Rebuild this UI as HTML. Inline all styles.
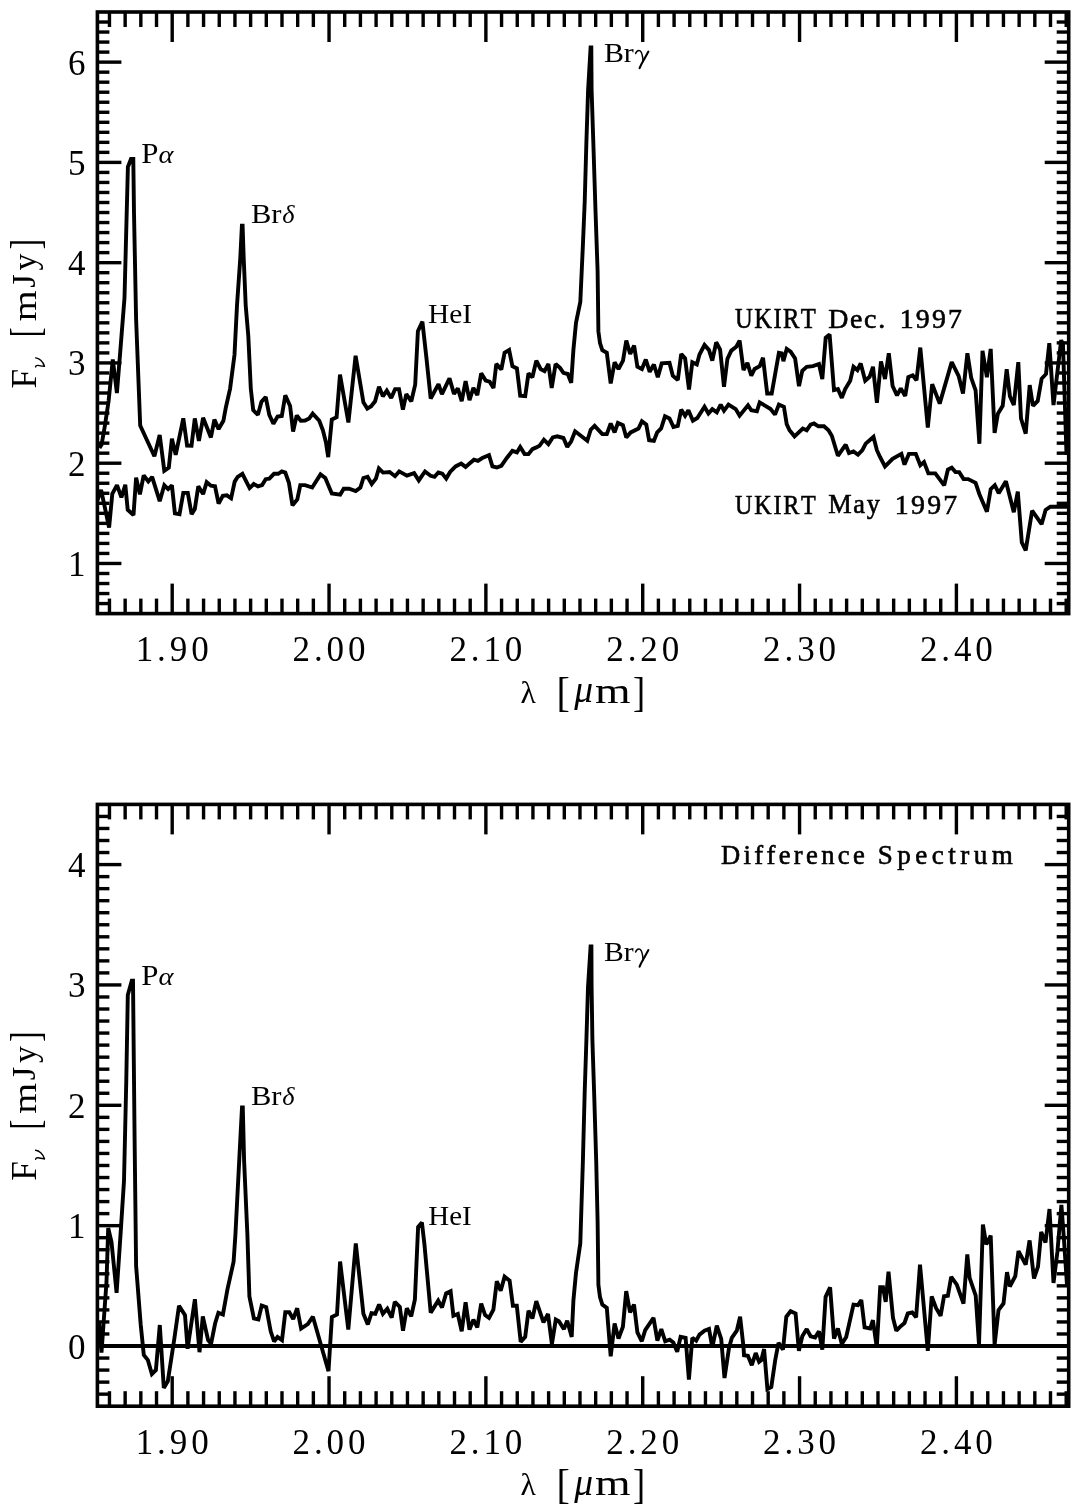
<!DOCTYPE html>
<html><head><meta charset="utf-8"><style>
html,body{margin:0;padding:0;background:#fff;}
svg{display:block;filter:grayscale(1);}
text{font-family:"Liberation Serif",serif;}
</style></head><body>
<svg width="1078" height="1511" viewBox="0 0 1078 1511">
<defs><clipPath id="c1"><rect x="97.4" y="12.0" width="971.3000000000001" height="601.6"/></clipPath>
<clipPath id="c2"><rect x="97.4" y="804.4" width="971.3000000000001" height="601.8000000000001"/></clipPath></defs>
<rect width="1078" height="1511" fill="#fff"/>
<g stroke="#000" stroke-linecap="butt">
<line x1="109.46" y1="613.60" x2="109.46" y2="598.60" stroke-width="3.4"/>
<line x1="109.46" y1="12.00" x2="109.46" y2="27.00" stroke-width="3.4"/>
<line x1="125.15" y1="613.60" x2="125.15" y2="598.60" stroke-width="3.4"/>
<line x1="125.15" y1="12.00" x2="125.15" y2="27.00" stroke-width="3.4"/>
<line x1="140.83" y1="613.60" x2="140.83" y2="598.60" stroke-width="3.4"/>
<line x1="140.83" y1="12.00" x2="140.83" y2="27.00" stroke-width="3.4"/>
<line x1="156.52" y1="613.60" x2="156.52" y2="598.60" stroke-width="3.4"/>
<line x1="156.52" y1="12.00" x2="156.52" y2="27.00" stroke-width="3.4"/>
<line x1="172.20" y1="613.60" x2="172.20" y2="583.60" stroke-width="3.4"/>
<line x1="172.20" y1="12.00" x2="172.20" y2="42.00" stroke-width="3.4"/>
<line x1="187.88" y1="613.60" x2="187.88" y2="598.60" stroke-width="3.4"/>
<line x1="187.88" y1="12.00" x2="187.88" y2="27.00" stroke-width="3.4"/>
<line x1="203.57" y1="613.60" x2="203.57" y2="598.60" stroke-width="3.4"/>
<line x1="203.57" y1="12.00" x2="203.57" y2="27.00" stroke-width="3.4"/>
<line x1="219.25" y1="613.60" x2="219.25" y2="598.60" stroke-width="3.4"/>
<line x1="219.25" y1="12.00" x2="219.25" y2="27.00" stroke-width="3.4"/>
<line x1="234.94" y1="613.60" x2="234.94" y2="598.60" stroke-width="3.4"/>
<line x1="234.94" y1="12.00" x2="234.94" y2="27.00" stroke-width="3.4"/>
<line x1="250.62" y1="613.60" x2="250.62" y2="598.60" stroke-width="3.4"/>
<line x1="250.62" y1="12.00" x2="250.62" y2="27.00" stroke-width="3.4"/>
<line x1="266.30" y1="613.60" x2="266.30" y2="598.60" stroke-width="3.4"/>
<line x1="266.30" y1="12.00" x2="266.30" y2="27.00" stroke-width="3.4"/>
<line x1="281.99" y1="613.60" x2="281.99" y2="598.60" stroke-width="3.4"/>
<line x1="281.99" y1="12.00" x2="281.99" y2="27.00" stroke-width="3.4"/>
<line x1="297.67" y1="613.60" x2="297.67" y2="598.60" stroke-width="3.4"/>
<line x1="297.67" y1="12.00" x2="297.67" y2="27.00" stroke-width="3.4"/>
<line x1="313.36" y1="613.60" x2="313.36" y2="598.60" stroke-width="3.4"/>
<line x1="313.36" y1="12.00" x2="313.36" y2="27.00" stroke-width="3.4"/>
<line x1="329.04" y1="613.60" x2="329.04" y2="583.60" stroke-width="3.4"/>
<line x1="329.04" y1="12.00" x2="329.04" y2="42.00" stroke-width="3.4"/>
<line x1="344.72" y1="613.60" x2="344.72" y2="598.60" stroke-width="3.4"/>
<line x1="344.72" y1="12.00" x2="344.72" y2="27.00" stroke-width="3.4"/>
<line x1="360.41" y1="613.60" x2="360.41" y2="598.60" stroke-width="3.4"/>
<line x1="360.41" y1="12.00" x2="360.41" y2="27.00" stroke-width="3.4"/>
<line x1="376.09" y1="613.60" x2="376.09" y2="598.60" stroke-width="3.4"/>
<line x1="376.09" y1="12.00" x2="376.09" y2="27.00" stroke-width="3.4"/>
<line x1="391.78" y1="613.60" x2="391.78" y2="598.60" stroke-width="3.4"/>
<line x1="391.78" y1="12.00" x2="391.78" y2="27.00" stroke-width="3.4"/>
<line x1="407.46" y1="613.60" x2="407.46" y2="598.60" stroke-width="3.4"/>
<line x1="407.46" y1="12.00" x2="407.46" y2="27.00" stroke-width="3.4"/>
<line x1="423.14" y1="613.60" x2="423.14" y2="598.60" stroke-width="3.4"/>
<line x1="423.14" y1="12.00" x2="423.14" y2="27.00" stroke-width="3.4"/>
<line x1="438.83" y1="613.60" x2="438.83" y2="598.60" stroke-width="3.4"/>
<line x1="438.83" y1="12.00" x2="438.83" y2="27.00" stroke-width="3.4"/>
<line x1="454.51" y1="613.60" x2="454.51" y2="598.60" stroke-width="3.4"/>
<line x1="454.51" y1="12.00" x2="454.51" y2="27.00" stroke-width="3.4"/>
<line x1="470.20" y1="613.60" x2="470.20" y2="598.60" stroke-width="3.4"/>
<line x1="470.20" y1="12.00" x2="470.20" y2="27.00" stroke-width="3.4"/>
<line x1="485.88" y1="613.60" x2="485.88" y2="583.60" stroke-width="3.4"/>
<line x1="485.88" y1="12.00" x2="485.88" y2="42.00" stroke-width="3.4"/>
<line x1="501.56" y1="613.60" x2="501.56" y2="598.60" stroke-width="3.4"/>
<line x1="501.56" y1="12.00" x2="501.56" y2="27.00" stroke-width="3.4"/>
<line x1="517.25" y1="613.60" x2="517.25" y2="598.60" stroke-width="3.4"/>
<line x1="517.25" y1="12.00" x2="517.25" y2="27.00" stroke-width="3.4"/>
<line x1="532.93" y1="613.60" x2="532.93" y2="598.60" stroke-width="3.4"/>
<line x1="532.93" y1="12.00" x2="532.93" y2="27.00" stroke-width="3.4"/>
<line x1="548.62" y1="613.60" x2="548.62" y2="598.60" stroke-width="3.4"/>
<line x1="548.62" y1="12.00" x2="548.62" y2="27.00" stroke-width="3.4"/>
<line x1="564.30" y1="613.60" x2="564.30" y2="598.60" stroke-width="3.4"/>
<line x1="564.30" y1="12.00" x2="564.30" y2="27.00" stroke-width="3.4"/>
<line x1="579.98" y1="613.60" x2="579.98" y2="598.60" stroke-width="3.4"/>
<line x1="579.98" y1="12.00" x2="579.98" y2="27.00" stroke-width="3.4"/>
<line x1="595.67" y1="613.60" x2="595.67" y2="598.60" stroke-width="3.4"/>
<line x1="595.67" y1="12.00" x2="595.67" y2="27.00" stroke-width="3.4"/>
<line x1="611.35" y1="613.60" x2="611.35" y2="598.60" stroke-width="3.4"/>
<line x1="611.35" y1="12.00" x2="611.35" y2="27.00" stroke-width="3.4"/>
<line x1="627.04" y1="613.60" x2="627.04" y2="598.60" stroke-width="3.4"/>
<line x1="627.04" y1="12.00" x2="627.04" y2="27.00" stroke-width="3.4"/>
<line x1="642.72" y1="613.60" x2="642.72" y2="583.60" stroke-width="3.4"/>
<line x1="642.72" y1="12.00" x2="642.72" y2="42.00" stroke-width="3.4"/>
<line x1="658.40" y1="613.60" x2="658.40" y2="598.60" stroke-width="3.4"/>
<line x1="658.40" y1="12.00" x2="658.40" y2="27.00" stroke-width="3.4"/>
<line x1="674.09" y1="613.60" x2="674.09" y2="598.60" stroke-width="3.4"/>
<line x1="674.09" y1="12.00" x2="674.09" y2="27.00" stroke-width="3.4"/>
<line x1="689.77" y1="613.60" x2="689.77" y2="598.60" stroke-width="3.4"/>
<line x1="689.77" y1="12.00" x2="689.77" y2="27.00" stroke-width="3.4"/>
<line x1="705.46" y1="613.60" x2="705.46" y2="598.60" stroke-width="3.4"/>
<line x1="705.46" y1="12.00" x2="705.46" y2="27.00" stroke-width="3.4"/>
<line x1="721.14" y1="613.60" x2="721.14" y2="598.60" stroke-width="3.4"/>
<line x1="721.14" y1="12.00" x2="721.14" y2="27.00" stroke-width="3.4"/>
<line x1="736.82" y1="613.60" x2="736.82" y2="598.60" stroke-width="3.4"/>
<line x1="736.82" y1="12.00" x2="736.82" y2="27.00" stroke-width="3.4"/>
<line x1="752.51" y1="613.60" x2="752.51" y2="598.60" stroke-width="3.4"/>
<line x1="752.51" y1="12.00" x2="752.51" y2="27.00" stroke-width="3.4"/>
<line x1="768.19" y1="613.60" x2="768.19" y2="598.60" stroke-width="3.4"/>
<line x1="768.19" y1="12.00" x2="768.19" y2="27.00" stroke-width="3.4"/>
<line x1="783.88" y1="613.60" x2="783.88" y2="598.60" stroke-width="3.4"/>
<line x1="783.88" y1="12.00" x2="783.88" y2="27.00" stroke-width="3.4"/>
<line x1="799.56" y1="613.60" x2="799.56" y2="583.60" stroke-width="3.4"/>
<line x1="799.56" y1="12.00" x2="799.56" y2="42.00" stroke-width="3.4"/>
<line x1="815.24" y1="613.60" x2="815.24" y2="598.60" stroke-width="3.4"/>
<line x1="815.24" y1="12.00" x2="815.24" y2="27.00" stroke-width="3.4"/>
<line x1="830.93" y1="613.60" x2="830.93" y2="598.60" stroke-width="3.4"/>
<line x1="830.93" y1="12.00" x2="830.93" y2="27.00" stroke-width="3.4"/>
<line x1="846.61" y1="613.60" x2="846.61" y2="598.60" stroke-width="3.4"/>
<line x1="846.61" y1="12.00" x2="846.61" y2="27.00" stroke-width="3.4"/>
<line x1="862.30" y1="613.60" x2="862.30" y2="598.60" stroke-width="3.4"/>
<line x1="862.30" y1="12.00" x2="862.30" y2="27.00" stroke-width="3.4"/>
<line x1="877.98" y1="613.60" x2="877.98" y2="598.60" stroke-width="3.4"/>
<line x1="877.98" y1="12.00" x2="877.98" y2="27.00" stroke-width="3.4"/>
<line x1="893.66" y1="613.60" x2="893.66" y2="598.60" stroke-width="3.4"/>
<line x1="893.66" y1="12.00" x2="893.66" y2="27.00" stroke-width="3.4"/>
<line x1="909.35" y1="613.60" x2="909.35" y2="598.60" stroke-width="3.4"/>
<line x1="909.35" y1="12.00" x2="909.35" y2="27.00" stroke-width="3.4"/>
<line x1="925.03" y1="613.60" x2="925.03" y2="598.60" stroke-width="3.4"/>
<line x1="925.03" y1="12.00" x2="925.03" y2="27.00" stroke-width="3.4"/>
<line x1="940.72" y1="613.60" x2="940.72" y2="598.60" stroke-width="3.4"/>
<line x1="940.72" y1="12.00" x2="940.72" y2="27.00" stroke-width="3.4"/>
<line x1="956.40" y1="613.60" x2="956.40" y2="583.60" stroke-width="3.4"/>
<line x1="956.40" y1="12.00" x2="956.40" y2="42.00" stroke-width="3.4"/>
<line x1="972.08" y1="613.60" x2="972.08" y2="598.60" stroke-width="3.4"/>
<line x1="972.08" y1="12.00" x2="972.08" y2="27.00" stroke-width="3.4"/>
<line x1="987.77" y1="613.60" x2="987.77" y2="598.60" stroke-width="3.4"/>
<line x1="987.77" y1="12.00" x2="987.77" y2="27.00" stroke-width="3.4"/>
<line x1="1003.45" y1="613.60" x2="1003.45" y2="598.60" stroke-width="3.4"/>
<line x1="1003.45" y1="12.00" x2="1003.45" y2="27.00" stroke-width="3.4"/>
<line x1="1019.14" y1="613.60" x2="1019.14" y2="598.60" stroke-width="3.4"/>
<line x1="1019.14" y1="12.00" x2="1019.14" y2="27.00" stroke-width="3.4"/>
<line x1="1034.82" y1="613.60" x2="1034.82" y2="598.60" stroke-width="3.4"/>
<line x1="1034.82" y1="12.00" x2="1034.82" y2="27.00" stroke-width="3.4"/>
<line x1="1050.50" y1="613.60" x2="1050.50" y2="598.60" stroke-width="3.4"/>
<line x1="1050.50" y1="12.00" x2="1050.50" y2="27.00" stroke-width="3.4"/>
<line x1="1066.19" y1="613.60" x2="1066.19" y2="598.60" stroke-width="3.4"/>
<line x1="1066.19" y1="12.00" x2="1066.19" y2="27.00" stroke-width="3.4"/>
<line x1="97.40" y1="603.57" x2="109.40" y2="603.57" stroke-width="3.4"/>
<line x1="1068.70" y1="603.57" x2="1056.70" y2="603.57" stroke-width="3.4"/>
<line x1="97.40" y1="593.55" x2="109.40" y2="593.55" stroke-width="3.4"/>
<line x1="1068.70" y1="593.55" x2="1056.70" y2="593.55" stroke-width="3.4"/>
<line x1="97.40" y1="583.52" x2="109.40" y2="583.52" stroke-width="3.4"/>
<line x1="1068.70" y1="583.52" x2="1056.70" y2="583.52" stroke-width="3.4"/>
<line x1="97.40" y1="573.49" x2="109.40" y2="573.49" stroke-width="3.4"/>
<line x1="1068.70" y1="573.49" x2="1056.70" y2="573.49" stroke-width="3.4"/>
<line x1="97.40" y1="563.47" x2="121.40" y2="563.47" stroke-width="3.4"/>
<line x1="1068.70" y1="563.47" x2="1044.70" y2="563.47" stroke-width="3.4"/>
<line x1="97.40" y1="553.44" x2="109.40" y2="553.44" stroke-width="3.4"/>
<line x1="1068.70" y1="553.44" x2="1056.70" y2="553.44" stroke-width="3.4"/>
<line x1="97.40" y1="543.41" x2="109.40" y2="543.41" stroke-width="3.4"/>
<line x1="1068.70" y1="543.41" x2="1056.70" y2="543.41" stroke-width="3.4"/>
<line x1="97.40" y1="533.39" x2="109.40" y2="533.39" stroke-width="3.4"/>
<line x1="1068.70" y1="533.39" x2="1056.70" y2="533.39" stroke-width="3.4"/>
<line x1="97.40" y1="523.36" x2="109.40" y2="523.36" stroke-width="3.4"/>
<line x1="1068.70" y1="523.36" x2="1056.70" y2="523.36" stroke-width="3.4"/>
<line x1="97.40" y1="513.33" x2="109.40" y2="513.33" stroke-width="3.4"/>
<line x1="1068.70" y1="513.33" x2="1056.70" y2="513.33" stroke-width="3.4"/>
<line x1="97.40" y1="503.31" x2="109.40" y2="503.31" stroke-width="3.4"/>
<line x1="1068.70" y1="503.31" x2="1056.70" y2="503.31" stroke-width="3.4"/>
<line x1="97.40" y1="493.28" x2="109.40" y2="493.28" stroke-width="3.4"/>
<line x1="1068.70" y1="493.28" x2="1056.70" y2="493.28" stroke-width="3.4"/>
<line x1="97.40" y1="483.25" x2="109.40" y2="483.25" stroke-width="3.4"/>
<line x1="1068.70" y1="483.25" x2="1056.70" y2="483.25" stroke-width="3.4"/>
<line x1="97.40" y1="473.23" x2="109.40" y2="473.23" stroke-width="3.4"/>
<line x1="1068.70" y1="473.23" x2="1056.70" y2="473.23" stroke-width="3.4"/>
<line x1="97.40" y1="463.20" x2="121.40" y2="463.20" stroke-width="3.4"/>
<line x1="1068.70" y1="463.20" x2="1044.70" y2="463.20" stroke-width="3.4"/>
<line x1="97.40" y1="453.17" x2="109.40" y2="453.17" stroke-width="3.4"/>
<line x1="1068.70" y1="453.17" x2="1056.70" y2="453.17" stroke-width="3.4"/>
<line x1="97.40" y1="443.15" x2="109.40" y2="443.15" stroke-width="3.4"/>
<line x1="1068.70" y1="443.15" x2="1056.70" y2="443.15" stroke-width="3.4"/>
<line x1="97.40" y1="433.12" x2="109.40" y2="433.12" stroke-width="3.4"/>
<line x1="1068.70" y1="433.12" x2="1056.70" y2="433.12" stroke-width="3.4"/>
<line x1="97.40" y1="423.09" x2="109.40" y2="423.09" stroke-width="3.4"/>
<line x1="1068.70" y1="423.09" x2="1056.70" y2="423.09" stroke-width="3.4"/>
<line x1="97.40" y1="413.07" x2="109.40" y2="413.07" stroke-width="3.4"/>
<line x1="1068.70" y1="413.07" x2="1056.70" y2="413.07" stroke-width="3.4"/>
<line x1="97.40" y1="403.04" x2="109.40" y2="403.04" stroke-width="3.4"/>
<line x1="1068.70" y1="403.04" x2="1056.70" y2="403.04" stroke-width="3.4"/>
<line x1="97.40" y1="393.01" x2="109.40" y2="393.01" stroke-width="3.4"/>
<line x1="1068.70" y1="393.01" x2="1056.70" y2="393.01" stroke-width="3.4"/>
<line x1="97.40" y1="382.99" x2="109.40" y2="382.99" stroke-width="3.4"/>
<line x1="1068.70" y1="382.99" x2="1056.70" y2="382.99" stroke-width="3.4"/>
<line x1="97.40" y1="372.96" x2="109.40" y2="372.96" stroke-width="3.4"/>
<line x1="1068.70" y1="372.96" x2="1056.70" y2="372.96" stroke-width="3.4"/>
<line x1="97.40" y1="362.93" x2="121.40" y2="362.93" stroke-width="3.4"/>
<line x1="1068.70" y1="362.93" x2="1044.70" y2="362.93" stroke-width="3.4"/>
<line x1="97.40" y1="352.91" x2="109.40" y2="352.91" stroke-width="3.4"/>
<line x1="1068.70" y1="352.91" x2="1056.70" y2="352.91" stroke-width="3.4"/>
<line x1="97.40" y1="342.88" x2="109.40" y2="342.88" stroke-width="3.4"/>
<line x1="1068.70" y1="342.88" x2="1056.70" y2="342.88" stroke-width="3.4"/>
<line x1="97.40" y1="332.85" x2="109.40" y2="332.85" stroke-width="3.4"/>
<line x1="1068.70" y1="332.85" x2="1056.70" y2="332.85" stroke-width="3.4"/>
<line x1="97.40" y1="322.83" x2="109.40" y2="322.83" stroke-width="3.4"/>
<line x1="1068.70" y1="322.83" x2="1056.70" y2="322.83" stroke-width="3.4"/>
<line x1="97.40" y1="312.80" x2="109.40" y2="312.80" stroke-width="3.4"/>
<line x1="1068.70" y1="312.80" x2="1056.70" y2="312.80" stroke-width="3.4"/>
<line x1="97.40" y1="302.77" x2="109.40" y2="302.77" stroke-width="3.4"/>
<line x1="1068.70" y1="302.77" x2="1056.70" y2="302.77" stroke-width="3.4"/>
<line x1="97.40" y1="292.75" x2="109.40" y2="292.75" stroke-width="3.4"/>
<line x1="1068.70" y1="292.75" x2="1056.70" y2="292.75" stroke-width="3.4"/>
<line x1="97.40" y1="282.72" x2="109.40" y2="282.72" stroke-width="3.4"/>
<line x1="1068.70" y1="282.72" x2="1056.70" y2="282.72" stroke-width="3.4"/>
<line x1="97.40" y1="272.69" x2="109.40" y2="272.69" stroke-width="3.4"/>
<line x1="1068.70" y1="272.69" x2="1056.70" y2="272.69" stroke-width="3.4"/>
<line x1="97.40" y1="262.67" x2="121.40" y2="262.67" stroke-width="3.4"/>
<line x1="1068.70" y1="262.67" x2="1044.70" y2="262.67" stroke-width="3.4"/>
<line x1="97.40" y1="252.64" x2="109.40" y2="252.64" stroke-width="3.4"/>
<line x1="1068.70" y1="252.64" x2="1056.70" y2="252.64" stroke-width="3.4"/>
<line x1="97.40" y1="242.61" x2="109.40" y2="242.61" stroke-width="3.4"/>
<line x1="1068.70" y1="242.61" x2="1056.70" y2="242.61" stroke-width="3.4"/>
<line x1="97.40" y1="232.59" x2="109.40" y2="232.59" stroke-width="3.4"/>
<line x1="1068.70" y1="232.59" x2="1056.70" y2="232.59" stroke-width="3.4"/>
<line x1="97.40" y1="222.56" x2="109.40" y2="222.56" stroke-width="3.4"/>
<line x1="1068.70" y1="222.56" x2="1056.70" y2="222.56" stroke-width="3.4"/>
<line x1="97.40" y1="212.53" x2="109.40" y2="212.53" stroke-width="3.4"/>
<line x1="1068.70" y1="212.53" x2="1056.70" y2="212.53" stroke-width="3.4"/>
<line x1="97.40" y1="202.51" x2="109.40" y2="202.51" stroke-width="3.4"/>
<line x1="1068.70" y1="202.51" x2="1056.70" y2="202.51" stroke-width="3.4"/>
<line x1="97.40" y1="192.48" x2="109.40" y2="192.48" stroke-width="3.4"/>
<line x1="1068.70" y1="192.48" x2="1056.70" y2="192.48" stroke-width="3.4"/>
<line x1="97.40" y1="182.45" x2="109.40" y2="182.45" stroke-width="3.4"/>
<line x1="1068.70" y1="182.45" x2="1056.70" y2="182.45" stroke-width="3.4"/>
<line x1="97.40" y1="172.43" x2="109.40" y2="172.43" stroke-width="3.4"/>
<line x1="1068.70" y1="172.43" x2="1056.70" y2="172.43" stroke-width="3.4"/>
<line x1="97.40" y1="162.40" x2="121.40" y2="162.40" stroke-width="3.4"/>
<line x1="1068.70" y1="162.40" x2="1044.70" y2="162.40" stroke-width="3.4"/>
<line x1="97.40" y1="152.37" x2="109.40" y2="152.37" stroke-width="3.4"/>
<line x1="1068.70" y1="152.37" x2="1056.70" y2="152.37" stroke-width="3.4"/>
<line x1="97.40" y1="142.35" x2="109.40" y2="142.35" stroke-width="3.4"/>
<line x1="1068.70" y1="142.35" x2="1056.70" y2="142.35" stroke-width="3.4"/>
<line x1="97.40" y1="132.32" x2="109.40" y2="132.32" stroke-width="3.4"/>
<line x1="1068.70" y1="132.32" x2="1056.70" y2="132.32" stroke-width="3.4"/>
<line x1="97.40" y1="122.29" x2="109.40" y2="122.29" stroke-width="3.4"/>
<line x1="1068.70" y1="122.29" x2="1056.70" y2="122.29" stroke-width="3.4"/>
<line x1="97.40" y1="112.27" x2="109.40" y2="112.27" stroke-width="3.4"/>
<line x1="1068.70" y1="112.27" x2="1056.70" y2="112.27" stroke-width="3.4"/>
<line x1="97.40" y1="102.24" x2="109.40" y2="102.24" stroke-width="3.4"/>
<line x1="1068.70" y1="102.24" x2="1056.70" y2="102.24" stroke-width="3.4"/>
<line x1="97.40" y1="92.21" x2="109.40" y2="92.21" stroke-width="3.4"/>
<line x1="1068.70" y1="92.21" x2="1056.70" y2="92.21" stroke-width="3.4"/>
<line x1="97.40" y1="82.19" x2="109.40" y2="82.19" stroke-width="3.4"/>
<line x1="1068.70" y1="82.19" x2="1056.70" y2="82.19" stroke-width="3.4"/>
<line x1="97.40" y1="72.16" x2="109.40" y2="72.16" stroke-width="3.4"/>
<line x1="1068.70" y1="72.16" x2="1056.70" y2="72.16" stroke-width="3.4"/>
<line x1="97.40" y1="62.13" x2="121.40" y2="62.13" stroke-width="3.4"/>
<line x1="1068.70" y1="62.13" x2="1044.70" y2="62.13" stroke-width="3.4"/>
<line x1="97.40" y1="52.11" x2="109.40" y2="52.11" stroke-width="3.4"/>
<line x1="1068.70" y1="52.11" x2="1056.70" y2="52.11" stroke-width="3.4"/>
<line x1="97.40" y1="42.08" x2="109.40" y2="42.08" stroke-width="3.4"/>
<line x1="1068.70" y1="42.08" x2="1056.70" y2="42.08" stroke-width="3.4"/>
<line x1="97.40" y1="32.05" x2="109.40" y2="32.05" stroke-width="3.4"/>
<line x1="1068.70" y1="32.05" x2="1056.70" y2="32.05" stroke-width="3.4"/>
<line x1="97.40" y1="22.03" x2="109.40" y2="22.03" stroke-width="3.4"/>
<line x1="1068.70" y1="22.03" x2="1056.70" y2="22.03" stroke-width="3.4"/>
<rect x="97.4" y="12.0" width="971.30" height="601.60" fill="none" stroke-width="3.6"/>
</g>
<g stroke="#000" stroke-linecap="butt">
<line x1="109.46" y1="1406.20" x2="109.46" y2="1391.20" stroke-width="3.4"/>
<line x1="109.46" y1="804.40" x2="109.46" y2="819.40" stroke-width="3.4"/>
<line x1="125.15" y1="1406.20" x2="125.15" y2="1391.20" stroke-width="3.4"/>
<line x1="125.15" y1="804.40" x2="125.15" y2="819.40" stroke-width="3.4"/>
<line x1="140.83" y1="1406.20" x2="140.83" y2="1391.20" stroke-width="3.4"/>
<line x1="140.83" y1="804.40" x2="140.83" y2="819.40" stroke-width="3.4"/>
<line x1="156.52" y1="1406.20" x2="156.52" y2="1391.20" stroke-width="3.4"/>
<line x1="156.52" y1="804.40" x2="156.52" y2="819.40" stroke-width="3.4"/>
<line x1="172.20" y1="1406.20" x2="172.20" y2="1376.20" stroke-width="3.4"/>
<line x1="172.20" y1="804.40" x2="172.20" y2="834.40" stroke-width="3.4"/>
<line x1="187.88" y1="1406.20" x2="187.88" y2="1391.20" stroke-width="3.4"/>
<line x1="187.88" y1="804.40" x2="187.88" y2="819.40" stroke-width="3.4"/>
<line x1="203.57" y1="1406.20" x2="203.57" y2="1391.20" stroke-width="3.4"/>
<line x1="203.57" y1="804.40" x2="203.57" y2="819.40" stroke-width="3.4"/>
<line x1="219.25" y1="1406.20" x2="219.25" y2="1391.20" stroke-width="3.4"/>
<line x1="219.25" y1="804.40" x2="219.25" y2="819.40" stroke-width="3.4"/>
<line x1="234.94" y1="1406.20" x2="234.94" y2="1391.20" stroke-width="3.4"/>
<line x1="234.94" y1="804.40" x2="234.94" y2="819.40" stroke-width="3.4"/>
<line x1="250.62" y1="1406.20" x2="250.62" y2="1391.20" stroke-width="3.4"/>
<line x1="250.62" y1="804.40" x2="250.62" y2="819.40" stroke-width="3.4"/>
<line x1="266.30" y1="1406.20" x2="266.30" y2="1391.20" stroke-width="3.4"/>
<line x1="266.30" y1="804.40" x2="266.30" y2="819.40" stroke-width="3.4"/>
<line x1="281.99" y1="1406.20" x2="281.99" y2="1391.20" stroke-width="3.4"/>
<line x1="281.99" y1="804.40" x2="281.99" y2="819.40" stroke-width="3.4"/>
<line x1="297.67" y1="1406.20" x2="297.67" y2="1391.20" stroke-width="3.4"/>
<line x1="297.67" y1="804.40" x2="297.67" y2="819.40" stroke-width="3.4"/>
<line x1="313.36" y1="1406.20" x2="313.36" y2="1391.20" stroke-width="3.4"/>
<line x1="313.36" y1="804.40" x2="313.36" y2="819.40" stroke-width="3.4"/>
<line x1="329.04" y1="1406.20" x2="329.04" y2="1376.20" stroke-width="3.4"/>
<line x1="329.04" y1="804.40" x2="329.04" y2="834.40" stroke-width="3.4"/>
<line x1="344.72" y1="1406.20" x2="344.72" y2="1391.20" stroke-width="3.4"/>
<line x1="344.72" y1="804.40" x2="344.72" y2="819.40" stroke-width="3.4"/>
<line x1="360.41" y1="1406.20" x2="360.41" y2="1391.20" stroke-width="3.4"/>
<line x1="360.41" y1="804.40" x2="360.41" y2="819.40" stroke-width="3.4"/>
<line x1="376.09" y1="1406.20" x2="376.09" y2="1391.20" stroke-width="3.4"/>
<line x1="376.09" y1="804.40" x2="376.09" y2="819.40" stroke-width="3.4"/>
<line x1="391.78" y1="1406.20" x2="391.78" y2="1391.20" stroke-width="3.4"/>
<line x1="391.78" y1="804.40" x2="391.78" y2="819.40" stroke-width="3.4"/>
<line x1="407.46" y1="1406.20" x2="407.46" y2="1391.20" stroke-width="3.4"/>
<line x1="407.46" y1="804.40" x2="407.46" y2="819.40" stroke-width="3.4"/>
<line x1="423.14" y1="1406.20" x2="423.14" y2="1391.20" stroke-width="3.4"/>
<line x1="423.14" y1="804.40" x2="423.14" y2="819.40" stroke-width="3.4"/>
<line x1="438.83" y1="1406.20" x2="438.83" y2="1391.20" stroke-width="3.4"/>
<line x1="438.83" y1="804.40" x2="438.83" y2="819.40" stroke-width="3.4"/>
<line x1="454.51" y1="1406.20" x2="454.51" y2="1391.20" stroke-width="3.4"/>
<line x1="454.51" y1="804.40" x2="454.51" y2="819.40" stroke-width="3.4"/>
<line x1="470.20" y1="1406.20" x2="470.20" y2="1391.20" stroke-width="3.4"/>
<line x1="470.20" y1="804.40" x2="470.20" y2="819.40" stroke-width="3.4"/>
<line x1="485.88" y1="1406.20" x2="485.88" y2="1376.20" stroke-width="3.4"/>
<line x1="485.88" y1="804.40" x2="485.88" y2="834.40" stroke-width="3.4"/>
<line x1="501.56" y1="1406.20" x2="501.56" y2="1391.20" stroke-width="3.4"/>
<line x1="501.56" y1="804.40" x2="501.56" y2="819.40" stroke-width="3.4"/>
<line x1="517.25" y1="1406.20" x2="517.25" y2="1391.20" stroke-width="3.4"/>
<line x1="517.25" y1="804.40" x2="517.25" y2="819.40" stroke-width="3.4"/>
<line x1="532.93" y1="1406.20" x2="532.93" y2="1391.20" stroke-width="3.4"/>
<line x1="532.93" y1="804.40" x2="532.93" y2="819.40" stroke-width="3.4"/>
<line x1="548.62" y1="1406.20" x2="548.62" y2="1391.20" stroke-width="3.4"/>
<line x1="548.62" y1="804.40" x2="548.62" y2="819.40" stroke-width="3.4"/>
<line x1="564.30" y1="1406.20" x2="564.30" y2="1391.20" stroke-width="3.4"/>
<line x1="564.30" y1="804.40" x2="564.30" y2="819.40" stroke-width="3.4"/>
<line x1="579.98" y1="1406.20" x2="579.98" y2="1391.20" stroke-width="3.4"/>
<line x1="579.98" y1="804.40" x2="579.98" y2="819.40" stroke-width="3.4"/>
<line x1="595.67" y1="1406.20" x2="595.67" y2="1391.20" stroke-width="3.4"/>
<line x1="595.67" y1="804.40" x2="595.67" y2="819.40" stroke-width="3.4"/>
<line x1="611.35" y1="1406.20" x2="611.35" y2="1391.20" stroke-width="3.4"/>
<line x1="611.35" y1="804.40" x2="611.35" y2="819.40" stroke-width="3.4"/>
<line x1="627.04" y1="1406.20" x2="627.04" y2="1391.20" stroke-width="3.4"/>
<line x1="627.04" y1="804.40" x2="627.04" y2="819.40" stroke-width="3.4"/>
<line x1="642.72" y1="1406.20" x2="642.72" y2="1376.20" stroke-width="3.4"/>
<line x1="642.72" y1="804.40" x2="642.72" y2="834.40" stroke-width="3.4"/>
<line x1="658.40" y1="1406.20" x2="658.40" y2="1391.20" stroke-width="3.4"/>
<line x1="658.40" y1="804.40" x2="658.40" y2="819.40" stroke-width="3.4"/>
<line x1="674.09" y1="1406.20" x2="674.09" y2="1391.20" stroke-width="3.4"/>
<line x1="674.09" y1="804.40" x2="674.09" y2="819.40" stroke-width="3.4"/>
<line x1="689.77" y1="1406.20" x2="689.77" y2="1391.20" stroke-width="3.4"/>
<line x1="689.77" y1="804.40" x2="689.77" y2="819.40" stroke-width="3.4"/>
<line x1="705.46" y1="1406.20" x2="705.46" y2="1391.20" stroke-width="3.4"/>
<line x1="705.46" y1="804.40" x2="705.46" y2="819.40" stroke-width="3.4"/>
<line x1="721.14" y1="1406.20" x2="721.14" y2="1391.20" stroke-width="3.4"/>
<line x1="721.14" y1="804.40" x2="721.14" y2="819.40" stroke-width="3.4"/>
<line x1="736.82" y1="1406.20" x2="736.82" y2="1391.20" stroke-width="3.4"/>
<line x1="736.82" y1="804.40" x2="736.82" y2="819.40" stroke-width="3.4"/>
<line x1="752.51" y1="1406.20" x2="752.51" y2="1391.20" stroke-width="3.4"/>
<line x1="752.51" y1="804.40" x2="752.51" y2="819.40" stroke-width="3.4"/>
<line x1="768.19" y1="1406.20" x2="768.19" y2="1391.20" stroke-width="3.4"/>
<line x1="768.19" y1="804.40" x2="768.19" y2="819.40" stroke-width="3.4"/>
<line x1="783.88" y1="1406.20" x2="783.88" y2="1391.20" stroke-width="3.4"/>
<line x1="783.88" y1="804.40" x2="783.88" y2="819.40" stroke-width="3.4"/>
<line x1="799.56" y1="1406.20" x2="799.56" y2="1376.20" stroke-width="3.4"/>
<line x1="799.56" y1="804.40" x2="799.56" y2="834.40" stroke-width="3.4"/>
<line x1="815.24" y1="1406.20" x2="815.24" y2="1391.20" stroke-width="3.4"/>
<line x1="815.24" y1="804.40" x2="815.24" y2="819.40" stroke-width="3.4"/>
<line x1="830.93" y1="1406.20" x2="830.93" y2="1391.20" stroke-width="3.4"/>
<line x1="830.93" y1="804.40" x2="830.93" y2="819.40" stroke-width="3.4"/>
<line x1="846.61" y1="1406.20" x2="846.61" y2="1391.20" stroke-width="3.4"/>
<line x1="846.61" y1="804.40" x2="846.61" y2="819.40" stroke-width="3.4"/>
<line x1="862.30" y1="1406.20" x2="862.30" y2="1391.20" stroke-width="3.4"/>
<line x1="862.30" y1="804.40" x2="862.30" y2="819.40" stroke-width="3.4"/>
<line x1="877.98" y1="1406.20" x2="877.98" y2="1391.20" stroke-width="3.4"/>
<line x1="877.98" y1="804.40" x2="877.98" y2="819.40" stroke-width="3.4"/>
<line x1="893.66" y1="1406.20" x2="893.66" y2="1391.20" stroke-width="3.4"/>
<line x1="893.66" y1="804.40" x2="893.66" y2="819.40" stroke-width="3.4"/>
<line x1="909.35" y1="1406.20" x2="909.35" y2="1391.20" stroke-width="3.4"/>
<line x1="909.35" y1="804.40" x2="909.35" y2="819.40" stroke-width="3.4"/>
<line x1="925.03" y1="1406.20" x2="925.03" y2="1391.20" stroke-width="3.4"/>
<line x1="925.03" y1="804.40" x2="925.03" y2="819.40" stroke-width="3.4"/>
<line x1="940.72" y1="1406.20" x2="940.72" y2="1391.20" stroke-width="3.4"/>
<line x1="940.72" y1="804.40" x2="940.72" y2="819.40" stroke-width="3.4"/>
<line x1="956.40" y1="1406.20" x2="956.40" y2="1376.20" stroke-width="3.4"/>
<line x1="956.40" y1="804.40" x2="956.40" y2="834.40" stroke-width="3.4"/>
<line x1="972.08" y1="1406.20" x2="972.08" y2="1391.20" stroke-width="3.4"/>
<line x1="972.08" y1="804.40" x2="972.08" y2="819.40" stroke-width="3.4"/>
<line x1="987.77" y1="1406.20" x2="987.77" y2="1391.20" stroke-width="3.4"/>
<line x1="987.77" y1="804.40" x2="987.77" y2="819.40" stroke-width="3.4"/>
<line x1="1003.45" y1="1406.20" x2="1003.45" y2="1391.20" stroke-width="3.4"/>
<line x1="1003.45" y1="804.40" x2="1003.45" y2="819.40" stroke-width="3.4"/>
<line x1="1019.14" y1="1406.20" x2="1019.14" y2="1391.20" stroke-width="3.4"/>
<line x1="1019.14" y1="804.40" x2="1019.14" y2="819.40" stroke-width="3.4"/>
<line x1="1034.82" y1="1406.20" x2="1034.82" y2="1391.20" stroke-width="3.4"/>
<line x1="1034.82" y1="804.40" x2="1034.82" y2="819.40" stroke-width="3.4"/>
<line x1="1050.50" y1="1406.20" x2="1050.50" y2="1391.20" stroke-width="3.4"/>
<line x1="1050.50" y1="804.40" x2="1050.50" y2="819.40" stroke-width="3.4"/>
<line x1="1066.19" y1="1406.20" x2="1066.19" y2="1391.20" stroke-width="3.4"/>
<line x1="1066.19" y1="804.40" x2="1066.19" y2="819.40" stroke-width="3.4"/>
<line x1="97.40" y1="1394.16" x2="109.40" y2="1394.16" stroke-width="3.4"/>
<line x1="1068.70" y1="1394.16" x2="1056.70" y2="1394.16" stroke-width="3.4"/>
<line x1="97.40" y1="1382.13" x2="109.40" y2="1382.13" stroke-width="3.4"/>
<line x1="1068.70" y1="1382.13" x2="1056.70" y2="1382.13" stroke-width="3.4"/>
<line x1="97.40" y1="1370.09" x2="109.40" y2="1370.09" stroke-width="3.4"/>
<line x1="1068.70" y1="1370.09" x2="1056.70" y2="1370.09" stroke-width="3.4"/>
<line x1="97.40" y1="1358.06" x2="109.40" y2="1358.06" stroke-width="3.4"/>
<line x1="1068.70" y1="1358.06" x2="1056.70" y2="1358.06" stroke-width="3.4"/>
<line x1="97.40" y1="1346.02" x2="121.40" y2="1346.02" stroke-width="3.4"/>
<line x1="1068.70" y1="1346.02" x2="1044.70" y2="1346.02" stroke-width="3.4"/>
<line x1="97.40" y1="1333.98" x2="109.40" y2="1333.98" stroke-width="3.4"/>
<line x1="1068.70" y1="1333.98" x2="1056.70" y2="1333.98" stroke-width="3.4"/>
<line x1="97.40" y1="1321.95" x2="109.40" y2="1321.95" stroke-width="3.4"/>
<line x1="1068.70" y1="1321.95" x2="1056.70" y2="1321.95" stroke-width="3.4"/>
<line x1="97.40" y1="1309.91" x2="109.40" y2="1309.91" stroke-width="3.4"/>
<line x1="1068.70" y1="1309.91" x2="1056.70" y2="1309.91" stroke-width="3.4"/>
<line x1="97.40" y1="1297.88" x2="109.40" y2="1297.88" stroke-width="3.4"/>
<line x1="1068.70" y1="1297.88" x2="1056.70" y2="1297.88" stroke-width="3.4"/>
<line x1="97.40" y1="1285.84" x2="109.40" y2="1285.84" stroke-width="3.4"/>
<line x1="1068.70" y1="1285.84" x2="1056.70" y2="1285.84" stroke-width="3.4"/>
<line x1="97.40" y1="1273.80" x2="109.40" y2="1273.80" stroke-width="3.4"/>
<line x1="1068.70" y1="1273.80" x2="1056.70" y2="1273.80" stroke-width="3.4"/>
<line x1="97.40" y1="1261.77" x2="109.40" y2="1261.77" stroke-width="3.4"/>
<line x1="1068.70" y1="1261.77" x2="1056.70" y2="1261.77" stroke-width="3.4"/>
<line x1="97.40" y1="1249.73" x2="109.40" y2="1249.73" stroke-width="3.4"/>
<line x1="1068.70" y1="1249.73" x2="1056.70" y2="1249.73" stroke-width="3.4"/>
<line x1="97.40" y1="1237.70" x2="109.40" y2="1237.70" stroke-width="3.4"/>
<line x1="1068.70" y1="1237.70" x2="1056.70" y2="1237.70" stroke-width="3.4"/>
<line x1="97.40" y1="1225.66" x2="121.40" y2="1225.66" stroke-width="3.4"/>
<line x1="1068.70" y1="1225.66" x2="1044.70" y2="1225.66" stroke-width="3.4"/>
<line x1="97.40" y1="1213.62" x2="109.40" y2="1213.62" stroke-width="3.4"/>
<line x1="1068.70" y1="1213.62" x2="1056.70" y2="1213.62" stroke-width="3.4"/>
<line x1="97.40" y1="1201.59" x2="109.40" y2="1201.59" stroke-width="3.4"/>
<line x1="1068.70" y1="1201.59" x2="1056.70" y2="1201.59" stroke-width="3.4"/>
<line x1="97.40" y1="1189.55" x2="109.40" y2="1189.55" stroke-width="3.4"/>
<line x1="1068.70" y1="1189.55" x2="1056.70" y2="1189.55" stroke-width="3.4"/>
<line x1="97.40" y1="1177.52" x2="109.40" y2="1177.52" stroke-width="3.4"/>
<line x1="1068.70" y1="1177.52" x2="1056.70" y2="1177.52" stroke-width="3.4"/>
<line x1="97.40" y1="1165.48" x2="109.40" y2="1165.48" stroke-width="3.4"/>
<line x1="1068.70" y1="1165.48" x2="1056.70" y2="1165.48" stroke-width="3.4"/>
<line x1="97.40" y1="1153.44" x2="109.40" y2="1153.44" stroke-width="3.4"/>
<line x1="1068.70" y1="1153.44" x2="1056.70" y2="1153.44" stroke-width="3.4"/>
<line x1="97.40" y1="1141.41" x2="109.40" y2="1141.41" stroke-width="3.4"/>
<line x1="1068.70" y1="1141.41" x2="1056.70" y2="1141.41" stroke-width="3.4"/>
<line x1="97.40" y1="1129.37" x2="109.40" y2="1129.37" stroke-width="3.4"/>
<line x1="1068.70" y1="1129.37" x2="1056.70" y2="1129.37" stroke-width="3.4"/>
<line x1="97.40" y1="1117.34" x2="109.40" y2="1117.34" stroke-width="3.4"/>
<line x1="1068.70" y1="1117.34" x2="1056.70" y2="1117.34" stroke-width="3.4"/>
<line x1="97.40" y1="1105.30" x2="121.40" y2="1105.30" stroke-width="3.4"/>
<line x1="1068.70" y1="1105.30" x2="1044.70" y2="1105.30" stroke-width="3.4"/>
<line x1="97.40" y1="1093.26" x2="109.40" y2="1093.26" stroke-width="3.4"/>
<line x1="1068.70" y1="1093.26" x2="1056.70" y2="1093.26" stroke-width="3.4"/>
<line x1="97.40" y1="1081.23" x2="109.40" y2="1081.23" stroke-width="3.4"/>
<line x1="1068.70" y1="1081.23" x2="1056.70" y2="1081.23" stroke-width="3.4"/>
<line x1="97.40" y1="1069.19" x2="109.40" y2="1069.19" stroke-width="3.4"/>
<line x1="1068.70" y1="1069.19" x2="1056.70" y2="1069.19" stroke-width="3.4"/>
<line x1="97.40" y1="1057.16" x2="109.40" y2="1057.16" stroke-width="3.4"/>
<line x1="1068.70" y1="1057.16" x2="1056.70" y2="1057.16" stroke-width="3.4"/>
<line x1="97.40" y1="1045.12" x2="109.40" y2="1045.12" stroke-width="3.4"/>
<line x1="1068.70" y1="1045.12" x2="1056.70" y2="1045.12" stroke-width="3.4"/>
<line x1="97.40" y1="1033.08" x2="109.40" y2="1033.08" stroke-width="3.4"/>
<line x1="1068.70" y1="1033.08" x2="1056.70" y2="1033.08" stroke-width="3.4"/>
<line x1="97.40" y1="1021.05" x2="109.40" y2="1021.05" stroke-width="3.4"/>
<line x1="1068.70" y1="1021.05" x2="1056.70" y2="1021.05" stroke-width="3.4"/>
<line x1="97.40" y1="1009.01" x2="109.40" y2="1009.01" stroke-width="3.4"/>
<line x1="1068.70" y1="1009.01" x2="1056.70" y2="1009.01" stroke-width="3.4"/>
<line x1="97.40" y1="996.98" x2="109.40" y2="996.98" stroke-width="3.4"/>
<line x1="1068.70" y1="996.98" x2="1056.70" y2="996.98" stroke-width="3.4"/>
<line x1="97.40" y1="984.94" x2="121.40" y2="984.94" stroke-width="3.4"/>
<line x1="1068.70" y1="984.94" x2="1044.70" y2="984.94" stroke-width="3.4"/>
<line x1="97.40" y1="972.90" x2="109.40" y2="972.90" stroke-width="3.4"/>
<line x1="1068.70" y1="972.90" x2="1056.70" y2="972.90" stroke-width="3.4"/>
<line x1="97.40" y1="960.87" x2="109.40" y2="960.87" stroke-width="3.4"/>
<line x1="1068.70" y1="960.87" x2="1056.70" y2="960.87" stroke-width="3.4"/>
<line x1="97.40" y1="948.83" x2="109.40" y2="948.83" stroke-width="3.4"/>
<line x1="1068.70" y1="948.83" x2="1056.70" y2="948.83" stroke-width="3.4"/>
<line x1="97.40" y1="936.80" x2="109.40" y2="936.80" stroke-width="3.4"/>
<line x1="1068.70" y1="936.80" x2="1056.70" y2="936.80" stroke-width="3.4"/>
<line x1="97.40" y1="924.76" x2="109.40" y2="924.76" stroke-width="3.4"/>
<line x1="1068.70" y1="924.76" x2="1056.70" y2="924.76" stroke-width="3.4"/>
<line x1="97.40" y1="912.72" x2="109.40" y2="912.72" stroke-width="3.4"/>
<line x1="1068.70" y1="912.72" x2="1056.70" y2="912.72" stroke-width="3.4"/>
<line x1="97.40" y1="900.69" x2="109.40" y2="900.69" stroke-width="3.4"/>
<line x1="1068.70" y1="900.69" x2="1056.70" y2="900.69" stroke-width="3.4"/>
<line x1="97.40" y1="888.65" x2="109.40" y2="888.65" stroke-width="3.4"/>
<line x1="1068.70" y1="888.65" x2="1056.70" y2="888.65" stroke-width="3.4"/>
<line x1="97.40" y1="876.62" x2="109.40" y2="876.62" stroke-width="3.4"/>
<line x1="1068.70" y1="876.62" x2="1056.70" y2="876.62" stroke-width="3.4"/>
<line x1="97.40" y1="864.58" x2="121.40" y2="864.58" stroke-width="3.4"/>
<line x1="1068.70" y1="864.58" x2="1044.70" y2="864.58" stroke-width="3.4"/>
<line x1="97.40" y1="852.54" x2="109.40" y2="852.54" stroke-width="3.4"/>
<line x1="1068.70" y1="852.54" x2="1056.70" y2="852.54" stroke-width="3.4"/>
<line x1="97.40" y1="840.51" x2="109.40" y2="840.51" stroke-width="3.4"/>
<line x1="1068.70" y1="840.51" x2="1056.70" y2="840.51" stroke-width="3.4"/>
<line x1="97.40" y1="828.47" x2="109.40" y2="828.47" stroke-width="3.4"/>
<line x1="1068.70" y1="828.47" x2="1056.70" y2="828.47" stroke-width="3.4"/>
<line x1="97.40" y1="816.44" x2="109.40" y2="816.44" stroke-width="3.4"/>
<line x1="1068.70" y1="816.44" x2="1056.70" y2="816.44" stroke-width="3.4"/>
<rect x="97.4" y="804.4" width="971.30" height="601.80" fill="none" stroke-width="3.6"/>
</g>
<line x1="97.4" y1="1346.02" x2="1068.7" y2="1346.02" stroke="#000" stroke-width="3.9"/>
<g clip-path="url(#c1)">
<polyline points="99.5,448.0 101.6,444.5 105.0,425.0 108.6,401.0 112.8,359.5 116.9,393.0 120.3,351.0 124.5,298.0 127.9,167.0 131.0,159.0 133.3,159.0 134.0,213.0 136.1,319.0 140.2,425.5 154.4,456.3 159.7,435.0 164.3,470.8 168.8,467.7 171.9,438.8 175.7,454.8 183.3,418.3 187.1,445.7 191.5,445.8 194.8,418.4 198.9,441.0 203.1,417.8 210.9,437.5 214.4,419.6 218.6,429.1 223.4,420.8 225.8,407.7 230.1,388.6 234.5,354.7 237.0,305.3 240.3,258.0 241.9,225.8 242.6,225.8 243.7,258.0 245.7,305.3 248.3,335.8 250.8,388.6 253.2,410.0 257.9,414.8 261.5,401.7 265.7,397.0 269.3,414.8 273.4,423.8 277.6,416.6 281.8,416.0 285.3,395.2 290.1,405.9 293.1,431.5 296.7,415.4 300.8,420.8 305.0,420.5 309.2,418.4 312.7,413.6 319.3,420.8 322.9,430.3 325.9,442.2 328.2,457.1 331.8,419.6 336.6,417.2 340.0,374.6 348.4,422.5 355.6,355.7 363.4,402.4 367.3,408.6 371.2,406.3 375.1,401.3 379.0,386.8 382.9,396.3 386.8,390.7 391.2,398.0 395.1,389.1 399.0,389.1 402.9,409.7 406.3,394.1 411.3,401.3 415.2,384.6 417.9,331.2 422.4,321.7 426.3,356.8 430.7,398.5 438.5,384.1 441.9,394.1 449.5,378.4 454.0,394.0 457.8,388.4 461.7,401.2 465.6,381.2 469.5,400.1 473.4,387.9 477.3,395.1 481.2,373.4 485.7,380.6 489.6,381.7 493.5,387.9 496.3,363.9 501.3,369.5 504.6,352.8 509.1,350.0 512.4,366.2 516.9,368.4 520.2,395.7 525.2,396.2 528.5,373.4 532.4,377.3 536.3,360.6 540.6,369.0 544.5,371.2 548.4,364.0 551.7,387.9 555.6,364.0 560.0,367.9 563.4,372.9 567.8,374.0 571.2,382.9 573.4,350.0 576.0,322.8 580.3,302.0 582.9,245.0 584.7,202.0 586.4,141.7 588.1,90.0 590.6,47.5 591.3,47.5 591.6,90.0 593.3,141.7 595.5,210.7 597.6,271.0 598.4,331.4 600.0,343.0 602.3,350.1 606.8,352.8 610.7,383.5 614.6,362.3 618.5,369.0 623.0,360.6 626.3,340.6 630.2,354.0 634.1,345.6 637.4,366.8 641.9,369.0 645.8,359.5 649.7,371.8 653.9,364.5 657.8,377.3 661.7,363.4 669.5,362.9 672.8,375.7 677.8,380.1 681.2,354.0 685.1,358.4 689.0,389.6 692.3,362.3 696.8,364.5 699.5,354.5 704.5,345.0 709.0,350.1 712.3,360.6 716.2,342.3 720.1,349.5 724.0,386.8 727.4,359.0 731.3,350.6 736.3,346.7 739.6,340.6 743.5,370.1 747.4,362.9 751.3,375.7 754.6,369.0 759.7,366.2 763.0,357.8 767.2,393.5 771.7,393.5 778.9,352.8 781.7,353.4 783.4,361.2 786.7,348.9 790.6,351.7 795.1,358.4 799.0,386.2 802.3,370.7 806.7,366.8 812.9,366.2 819.0,364.0 822.3,379.0 825.7,337.8 829.6,334.5 834.0,390.1 837.9,389.0 841.8,397.9 845.2,389.0 850.2,380.7 853.5,366.8 857.4,370.1 860.7,363.4 865.2,380.7 869.6,376.8 873.0,366.8 876.9,402.9 881.0,361.5 885.0,379.0 888.8,353.3 892.6,386.0 897.0,395.4 900.8,388.5 905.2,396.0 908.3,377.2 912.7,375.3 916.5,380.3 920.3,347.6 927.8,427.5 932.2,384.1 939.7,403.6 951.7,362.1 958.6,375.9 963.0,393.5 967.4,353.3 971.2,377.8 975.6,390.4 979.4,443.8 982.5,350.8 986.9,377.2 990.7,348.9 994.6,433.0 997.9,413.7 1002.7,405.8 1006.7,369.3 1009.9,396.3 1013.8,405.0 1018.3,362.1 1021.0,418.5 1025.7,433.6 1029.7,385.1 1032.9,405.8 1037.7,401.0 1041.6,378.8 1046.0,374.0 1049.3,343.1 1053.5,405.0 1061.2,340.1 1063.0,345.0 1066.5,455.0" fill="none" stroke="#000" stroke-width="3.9" stroke-linejoin="miter" stroke-miterlimit="2"/>
<polyline points="97.5,500.0 101.1,489.8 109.1,527.5 112.3,493.8 117.0,485.1 121.4,497.4 125.3,484.7 127.7,509.7 133.5,515.0 136.1,477.6 139.9,494.4 143.7,475.4 148.3,481.4 152.1,476.9 159.7,501.2 164.3,485.3 168.1,489.1 171.9,485.3 174.9,513.4 179.5,514.2 183.3,492.9 187.8,492.9 191.6,514.2 194.8,509.0 198.3,486.3 203.1,494.1 206.7,482.2 210.9,485.7 215.0,486.3 218.6,503.6 222.8,495.9 226.9,495.3 231.1,498.3 234.7,481.6 237.7,476.8 242.4,473.8 249.6,488.1 253.8,484.0 257.9,486.3 262.1,485.1 265.7,479.2 269.3,478.6 274.0,473.8 278.2,473.8 281.8,471.4 285.3,472.6 288.9,482.8 292.5,505.4 297.3,499.4 300.3,485.1 305.0,485.1 312.2,487.5 320.5,474.4 325.3,478.0 331.8,493.5 340.2,494.7 343.7,488.7 349.1,488.7 355.7,491.1 360.4,487.5 363.4,478.0 367.6,476.8 371.7,484.0 375.9,478.6 378.9,468.5 383.1,472.6 389.6,472.0 395.0,476.2 399.2,471.4 406.9,475.6 414.1,473.2 418.8,480.4 425.0,471.5 430.6,475.8 434.5,476.9 438.4,472.5 442.3,473.6 446.2,478.6 450.1,471.9 455.6,466.4 461.2,463.6 465.6,466.9 469.5,463.6 474.0,459.7 477.9,460.8 482.3,458.0 489.0,455.2 492.4,466.4 496.8,467.5 501.3,465.8 506.8,458.0 512.4,450.8 516.9,452.4 520.2,446.9 524.6,454.1 528.5,454.1 532.4,449.1 536.3,447.4 539.5,445.8 543.9,439.7 548.4,444.1 552.8,437.4 557.3,436.3 563.4,438.0 567.3,446.9 571.2,441.3 575.1,431.3 587.3,440.8 590.7,429.7 594.6,425.8 602.3,434.1 606.8,434.1 610.7,423.5 614.6,432.4 617.9,423.0 622.9,425.2 626.3,437.4 630.7,432.4 638.5,428.5 641.9,421.3 646.3,424.6 649.1,440.2 653.9,440.8 657.2,432.4 661.1,428.5 665.0,416.3 669.5,418.5 673.4,426.9 677.8,425.8 681.2,409.6 685.1,415.7 688.4,410.2 692.9,420.7 697.3,418.0 704.5,406.8 708.4,413.5 712.3,409.1 716.8,412.4 720.7,404.6 724.0,410.7 728.5,404.6 735.7,409.1 739.6,415.7 748.0,405.2 751.3,410.2 756.9,411.3 759.7,402.4 765.0,405.7 770.6,409.1 775.0,414.6 778.9,404.6 783.9,406.8 786.7,424.1 789.5,430.2 794.5,436.3 802.8,428.5 806.7,430.2 810.6,424.6 814.0,423.5 818.4,426.3 824.0,426.3 828.5,430.2 831.8,435.8 837.9,455.8 845.7,444.7 849.0,453.0 853.5,451.4 858.0,454.7 862.4,450.2 865.7,443.6 873.5,436.9 876.9,450.2 880.0,457.0 885.0,466.5 892.6,458.9 901.4,453.9 904.5,464.6 908.9,453.9 915.8,453.9 920.3,465.2 924.0,462.1 928.4,473.4 935.3,473.4 944.2,485.3 947.9,469.6 951.7,467.7 955.5,472.1 959.2,472.1 963.6,479.1 968.1,479.1 975.6,482.8 979.4,494.2 986.9,511.8 990.7,489.1 994.8,485.2 998.7,493.2 1005.9,481.3 1013.8,512.2 1017.8,491.6 1021.8,542.4 1025.7,550.4 1032.1,510.7 1041.6,524.2 1045.6,509.9 1050.4,506.7 1068.0,506.7" fill="none" stroke="#000" stroke-width="3.9" stroke-linejoin="miter" stroke-miterlimit="2"/>
</g>
<g clip-path="url(#c2)">
<polyline points="99.0,1322.0 101.5,1352.5 106.5,1282.0 108.2,1228.0 111.5,1242.0 116.6,1292.9 120.5,1235.0 124.0,1181.0 126.3,1080.0 127.8,995.0 131.8,980.6 133.0,980.6 133.8,1060.0 134.6,1139.0 136.1,1266.0 140.7,1324.5 143.8,1355.0 147.9,1360.1 151.9,1374.0 155.9,1370.0 159.8,1325.0 163.8,1387.9 167.8,1381.3 174.4,1338.3 179.0,1305.8 185.0,1315.1 187.6,1348.8 194.9,1299.2 199.5,1352.2 202.8,1316.4 208.1,1340.2 211.1,1343.7 215.1,1323.5 218.4,1312.8 222.9,1314.5 227.4,1289.7 233.6,1261.6 235.4,1235.0 239.2,1160.8 242.0,1107.5 242.8,1107.5 244.1,1160.8 247.4,1235.0 249.4,1296.5 253.9,1318.4 258.4,1319.5 261.7,1305.5 266.2,1307.2 270.7,1331.3 274.1,1341.5 277.5,1337.0 282.0,1340.3 285.3,1312.2 289.3,1312.2 293.2,1319.0 297.2,1308.3 301.1,1328.5 307.8,1324.0 312.9,1316.7 321.9,1348.2 328.5,1371.2 331.9,1317.0 337.0,1314.5 340.1,1261.6 348.3,1329.6 355.8,1243.4 363.4,1313.8 367.8,1324.5 371.5,1313.2 375.3,1313.8 379.1,1304.4 382.9,1313.8 387.3,1308.8 391.7,1317.6 394.8,1301.9 399.8,1306.9 403.0,1330.8 406.8,1308.2 411.2,1316.4 414.9,1299.4 418.1,1227.0 421.9,1222.6 424.4,1244.0 430.7,1312.6 438.2,1300.6 442.0,1307.5 446.1,1293.4 450.6,1291.2 453.4,1315.7 457.8,1314.0 461.7,1331.3 465.6,1302.3 469.5,1329.6 473.4,1319.6 477.3,1327.4 481.2,1303.5 485.1,1315.1 489.0,1317.9 493.4,1309.6 496.8,1281.2 500.7,1290.7 504.6,1276.7 509.6,1280.6 512.9,1305.7 516.8,1305.7 520.7,1341.9 525.2,1336.9 528.5,1310.7 532.4,1318.5 536.3,1301.2 543.5,1322.4 548.0,1314.0 551.9,1344.1 555.8,1319.6 558.9,1321.3 563.9,1329.1 567.2,1320.7 571.7,1336.9 573.4,1300.5 576.0,1272.8 580.3,1243.4 582.9,1160.7 584.7,1091.7 586.4,1040.0 588.0,987.0 590.6,946.5 591.4,946.5 591.6,987.0 592.4,1040.0 594.1,1091.7 596.2,1160.7 597.6,1221.0 598.4,1284.8 600.0,1297.0 602.3,1304.6 606.8,1307.9 610.7,1356.3 614.6,1323.5 618.5,1338.5 622.9,1326.8 626.2,1291.2 630.1,1312.4 634.0,1304.6 637.4,1332.4 641.8,1341.3 645.2,1330.2 653.5,1317.9 657.4,1340.7 661.3,1329.1 665.2,1341.3 669.7,1339.6 673.3,1342.4 677.2,1351.8 680.6,1336.8 685.6,1337.9 688.9,1379.7 692.3,1337.9 696.2,1340.7 699.5,1334.6 704.5,1330.7 709.0,1329.0 712.3,1347.4 716.8,1325.7 721.2,1339.0 724.5,1378.0 729.0,1347.9 731.8,1337.9 736.8,1330.7 740.1,1316.8 743.5,1346.8 744.0,1355.2 747.9,1355.7 751.8,1365.2 755.7,1353.0 759.1,1361.9 761.3,1360.2 764.1,1349.1 767.4,1389.1 771.3,1386.9 775.2,1360.2 778.5,1342.9 783.0,1349.6 786.3,1316.8 790.6,1311.2 795.6,1313.5 798.9,1350.8 802.3,1336.3 806.7,1329.1 810.6,1336.3 815.1,1337.4 819.0,1331.3 822.3,1349.7 825.6,1296.8 830.1,1287.3 834.0,1338.5 837.9,1328.5 841.8,1344.1 846.2,1336.9 853.5,1304.6 857.9,1305.1 861.3,1300.1 864.6,1327.4 870.2,1328.5 872.9,1320.2 876.8,1347.4 880.2,1287.3 883.0,1287.3 885.7,1301.8 888.5,1271.7 893.0,1317.9 896.3,1330.7 900.0,1326.9 904.5,1323.0 907.8,1313.5 912.2,1312.4 916.1,1317.4 920.0,1264.6 927.8,1350.8 931.7,1296.3 936.0,1308.0 940.6,1315.8 944.0,1296.3 947.9,1295.7 951.2,1276.8 956.8,1284.6 963.5,1303.5 967.3,1254.5 969.6,1277.9 975.7,1295.7 979.0,1344.7 982.9,1224.5 986.3,1244.5 990.7,1235.6 994.6,1344.7 998.5,1310.2 1003.5,1303.5 1007.0,1272.2 1009.8,1286.5 1015.3,1276.1 1018.5,1251.1 1025.7,1264.6 1029.6,1240.4 1034.0,1278.5 1038.0,1266.6 1041.2,1232.0 1045.5,1242.4 1049.5,1209.0 1053.5,1282.9 1057.4,1251.9 1061.4,1205.0 1064.0,1240.0 1067.0,1285.0" fill="none" stroke="#000" stroke-width="3.9" stroke-linejoin="miter" stroke-miterlimit="2"/>
</g>
<g fill="#000">
<text x="85.50" y="575.97" font-size="35" text-anchor="end" >1</text>
<text x="85.50" y="475.70" font-size="35" text-anchor="end" >2</text>
<text x="85.50" y="375.43" font-size="35" text-anchor="end" >3</text>
<text x="85.50" y="275.17" font-size="35" text-anchor="end" >4</text>
<text x="85.50" y="174.90" font-size="35" text-anchor="end" >5</text>
<text x="85.50" y="74.63" font-size="35" text-anchor="end" >6</text>
<text x="174.15" y="661.20" font-size="35" text-anchor="middle" letter-spacing="3.9">1.90</text>
<text x="330.99" y="661.20" font-size="35" text-anchor="middle" letter-spacing="3.9">2.00</text>
<text x="487.83" y="661.20" font-size="35" text-anchor="middle" letter-spacing="3.9">2.10</text>
<text x="644.67" y="661.20" font-size="35" text-anchor="middle" letter-spacing="3.9">2.20</text>
<text x="801.51" y="661.20" font-size="35" text-anchor="middle" letter-spacing="3.9">2.30</text>
<text x="958.35" y="661.20" font-size="35" text-anchor="middle" letter-spacing="3.9">2.40</text>
<text x="85.50" y="1358.52" font-size="35" text-anchor="end" >0</text>
<text x="85.50" y="1238.16" font-size="35" text-anchor="end" >1</text>
<text x="85.50" y="1117.80" font-size="35" text-anchor="end" >2</text>
<text x="85.50" y="997.44" font-size="35" text-anchor="end" >3</text>
<text x="85.50" y="877.08" font-size="35" text-anchor="end" >4</text>
<text x="174.15" y="1453.80" font-size="35" text-anchor="middle" letter-spacing="3.9">1.90</text>
<text x="330.99" y="1453.80" font-size="35" text-anchor="middle" letter-spacing="3.9">2.00</text>
<text x="487.83" y="1453.80" font-size="35" text-anchor="middle" letter-spacing="3.9">2.10</text>
<text x="644.67" y="1453.80" font-size="35" text-anchor="middle" letter-spacing="3.9">2.20</text>
<text x="801.51" y="1453.80" font-size="35" text-anchor="middle" letter-spacing="3.9">2.30</text>
<text x="958.35" y="1453.80" font-size="35" text-anchor="middle" letter-spacing="3.9">2.40</text>
<text transform="translate(520.56,703.00) scale(0.3149,0.3149)" font-size="100">λ</text>
<text transform="translate(556.40,705.52) scale(0.4000,0.4205)" font-size="100">[</text>
<text transform="translate(574.34,702.44) scale(0.3748,0.3748)" font-size="100" font-style="italic">μ</text>
<text transform="translate(595.08,703.00) scale(0.4579,0.3511)" font-size="100">m</text>
<text transform="translate(633.02,705.52) scale(0.3644,0.4205)" font-size="100">]</text>
<text transform="translate(35.70,388.40) rotate(-90) scale(0.3527,0.3527)" font-size="100">F</text>
<g transform="translate(0,0)" fill="none" stroke="#000" stroke-width="1.45" stroke-linecap="round"><path d="M35.6,366.9 C35.7,365.7 36.6,365.3 38.2,365.4 C40.3,365.6 42.2,366.5 44.4,366.3"/><path d="M35.6,357.9 C39,358.2 43,361.2 44.4,366.3"/></g>
<text transform="translate(39.19,337.19) rotate(-90) scale(0.2921,0.4301)" font-size="100">[</text>
<text transform="translate(35.70,321.29) rotate(-90) scale(0.3973,0.3426)" font-size="100">m</text>
<text transform="translate(35.35,287.73) rotate(-90) scale(0.3474,0.3474)" font-size="100">J</text>
<text transform="translate(35.74,270.57) rotate(-90) scale(0.3378,0.3378)" font-size="100">y</text>
<text transform="translate(39.19,249.52) rotate(-90) scale(0.3200,0.4301)" font-size="100">]</text>
<text transform="translate(520.56,1495.40) scale(0.3149,0.3149)" font-size="100">λ</text>
<text transform="translate(556.40,1497.92) scale(0.4000,0.4205)" font-size="100">[</text>
<text transform="translate(574.34,1494.84) scale(0.3748,0.3748)" font-size="100" font-style="italic">μ</text>
<text transform="translate(595.08,1495.40) scale(0.4579,0.3511)" font-size="100">m</text>
<text transform="translate(633.02,1497.92) scale(0.3644,0.4205)" font-size="100">]</text>
<text transform="translate(35.70,1180.80) rotate(-90) scale(0.3527,0.3527)" font-size="100">F</text>
<g transform="translate(0,792.4)" fill="none" stroke="#000" stroke-width="1.45" stroke-linecap="round"><path d="M35.6,366.9 C35.7,365.7 36.6,365.3 38.2,365.4 C40.3,365.6 42.2,366.5 44.4,366.3"/><path d="M35.6,357.9 C39,358.2 43,361.2 44.4,366.3"/></g>
<text transform="translate(39.19,1129.59) rotate(-90) scale(0.2921,0.4301)" font-size="100">[</text>
<text transform="translate(35.70,1113.69) rotate(-90) scale(0.3973,0.3426)" font-size="100">m</text>
<text transform="translate(35.35,1080.13) rotate(-90) scale(0.3474,0.3474)" font-size="100">J</text>
<text transform="translate(35.74,1062.97) rotate(-90) scale(0.3378,0.3378)" font-size="100">y</text>
<text transform="translate(39.19,1041.92) rotate(-90) scale(0.3200,0.4301)" font-size="100">]</text>
</g>
<g fill="#000">
<text transform="translate(735.60,327.91) scale(0.86,1)" x="-0.57 21.71 43.99 55.15 75.86" y="0" font-size="28.57" stroke="#000" stroke-width="0.6">UKIRT</text>
<text transform="translate(829.00,327.98) scale(1.0,1)" x="-0.84 21.00 35.07 49.14" y="0" font-size="27.91" stroke="#000" stroke-width="0.6">Dec.</text>
<text transform="translate(902.10,328.12) scale(1.0,1)" x="-2.43 13.72 29.88 46.03" y="0" font-size="27.81" stroke="#000" stroke-width="0.6">1997</text>
<text transform="translate(735.60,513.52) scale(0.86,1)" x="-0.56 21.73 44.03 55.43 76.18" y="0" font-size="27.97" stroke="#000" stroke-width="0.6">UKIRT</text>
<text transform="translate(829.00,512.94) scale(1.0,1)" x="-0.79 24.36 37.79" y="0" font-size="26.32" stroke="#000" stroke-width="0.6">May</text>
<text transform="translate(897.20,514.12) scale(1.0,1)" x="-2.43 13.75 29.94 46.13" y="0" font-size="27.81" stroke="#000" stroke-width="0.6">1997</text>
<text transform="translate(721.70,864.13) scale(1.0,1)" x="-0.80 21.76 32.51 44.72 56.94 72.10 84.31 99.47 116.12 131.29" y="0" font-size="26.57" stroke="#000" stroke-width="0.6">Difference</text>
<text transform="translate(879.60,864.14) scale(1.0,1)" x="-1.83 17.71 35.73 52.23 68.73 80.73 94.22 112.24" y="0" font-size="27.09" stroke="#000" stroke-width="0.6">Spectrum</text>
<text transform="translate(141.17,162.50) scale(0.3093,0.2855)" font-size="100">P</text>
<text transform="translate(158.55,162.64) scale(0.2849,0.2570)" font-size="100" font-style="italic">α</text>
<text transform="translate(250.98,222.63) scale(0.3055,0.2829)" font-size="100">Br</text>
<text transform="translate(282.21,222.64) scale(0.2637,0.2620)" font-size="100" font-style="italic">δ</text>
<text transform="translate(428.02,322.62) scale(0.2939,0.2827)" font-size="100">HeI</text>
<text transform="translate(603.90,61.73) scale(0.2992,0.2707)" font-size="100">Br</text>
<g transform="translate(0,0)" fill="none" stroke="#000" stroke-linecap="round"><path d="M635.6,53.6 C636.4,51.4 638.2,50.2 639.6,50.6 C641.4,51.2 642.3,54.5 642.8,58.2 L643.1,61.6" stroke-width="1.5"/><path d="M648.4,51.6 L644.2,59.2 C642.6,62 641,64.5 639.6,68.2" stroke-width="2.1"/></g>
<text transform="translate(141.17,984.70) scale(0.3093,0.2855)" font-size="100">P</text>
<text transform="translate(158.55,984.84) scale(0.2849,0.2570)" font-size="100" font-style="italic">α</text>
<text transform="translate(250.98,1105.03) scale(0.3055,0.2753)" font-size="100">Br</text>
<text transform="translate(282.21,1105.34) scale(0.2637,0.2592)" font-size="100" font-style="italic">δ</text>
<text transform="translate(428.23,1225.33) scale(0.2897,0.2662)" font-size="100">HeI</text>
<text transform="translate(603.91,960.53) scale(0.2971,0.2798)" font-size="100">Br</text>
<g transform="translate(0,898.5)" fill="none" stroke="#000" stroke-linecap="round"><path d="M635.6,53.6 C636.4,51.4 638.2,50.2 639.6,50.6 C641.4,51.2 642.3,54.5 642.8,58.2 L643.1,61.6" stroke-width="1.5"/><path d="M648.4,51.6 L644.2,59.2 C642.6,62 641,64.5 639.6,68.2" stroke-width="2.1"/></g>
</g>
</svg></body></html>
